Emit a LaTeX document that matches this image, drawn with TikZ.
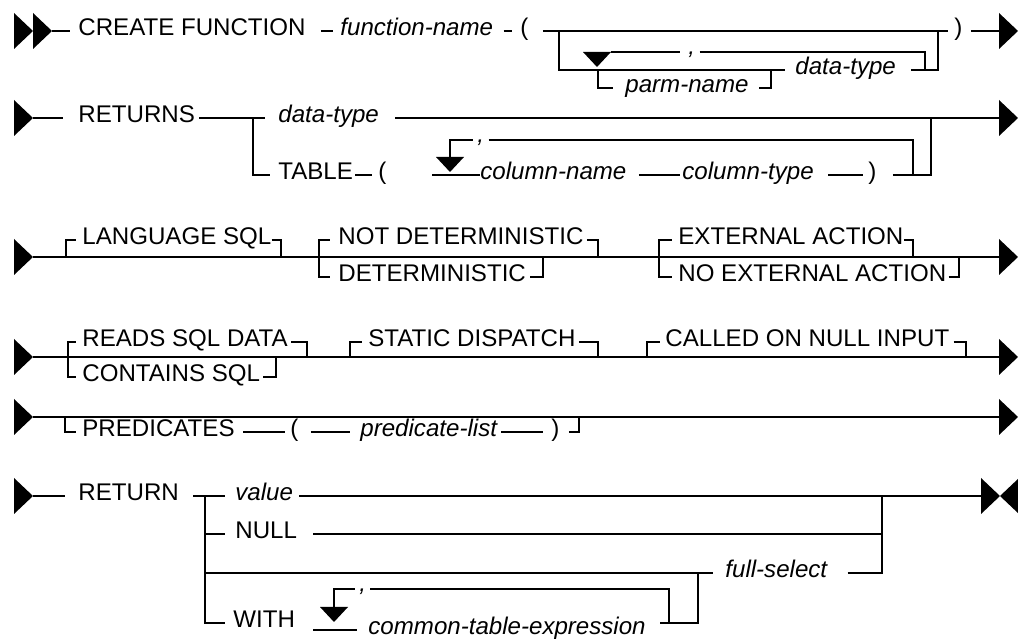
\documentclass[tikz,border=0pt]{standalone}
\usepackage{fontspec}
\setmainfont{Liberation Sans}
\newcommand{\railfont}{\fontsize{12.05}{14}\selectfont}
\tikzset{
	rail/.style={line width=0.6pt},
	kw/.style={inner sep=0pt, text height=8.5pt, text depth=3.5pt, anchor=west, font=\railfont},
	var/.style={kw, font=\railfont\itshape},
	sepcomma/.style={inner sep=0pt, text height=2.5pt, text depth=0pt, anchor=west, font=\railfont\itshape},
	tri/.pic={\fill (-19,-18) -- (0,0) -- (-19,18) -- cycle;},
	backtri/.pic={\fill (19,-18) -- (0,0) -- (19,18) -- cycle;},
	downtri/.pic={\fill (-14,-15) -- (14,-15) -- (0,0) -- cycle;}
}
\begin{document}
\begin{tikzpicture}[x=0.5pt, y=-0.5pt, line cap=butt, line join=miter]
			\useasboundingbox (0,0) rectangle (1018,640);
			
			% CREATE FUNCTION row
			\pic at (33,31) {tri}; \pic at (52,31) {tri};
			\node[kw] (create) at (78,31) {CREATE FUNCTION};
			\node[var] (fname) at (340,31) {function-name};
			\node[kw] (lp1) at (520,31) {(};
			\node[kw] (rp1) at (954,31) {)};
			\draw[rail] (52,31) -- ([xshift=-4pt]create.west);
			\draw[rail] ([xshift=7.5pt]create.east) -- ([xshift=-3.5pt]fname.west);
			\draw[rail] ([xshift=5pt]fname.east) -- ([xshift=-4pt]lp1.west);
			\draw[rail] ([xshift=7pt]lp1.east) -- ([xshift=-3pt]rp1.west);
			\draw[rail] ([xshift=4pt]rp1.east) -- (1000,31);
			\pic at (1018,31) {tri};
			% parameter list
			\node[var] (dtype1) at (795,70) {data-type};
			\node[var] (pname) at (625,88) {parm-name};
			\node[sepcomma] (comma1) at (688,52) {,};
			\draw[rail] (559,31) |- ([xshift=-5pt]dtype1.west);
			\draw[rail] ([xshift=7.5pt]dtype1.east) -| (938,31);
			\pic at (597,67) {downtri};
			\draw[rail] (611,52) -- ([xshift=-4pt]comma1.west);
			\draw[rail] ([xshift=2pt]comma1.east) -| (925,70);
			\draw[rail] (598,70) |- ([xshift=-6pt]pname.west);
			\draw[rail] ([xshift=5pt]pname.east) -| (771,70);
			
			% RETURNS row
			\pic at (33,118) {tri};
			\node[kw] (returns) at (78,118) {RETURNS};
			\node[var] (dtype2) at (278,118) {data-type};
			\node[kw] (table) at (278,175) {TABLE};
			\node[kw] (lp2) at (378,175) {(};
			\node[var] (cname) at (480,175) {column-name};
			\node[var] (ctype) at (682,175) {column-type};
			\node[kw] (rp2) at (868,175) {)};
			\node[sepcomma] (comma2) at (477,140) {,};
			\draw[rail] (33,118) -- ([xshift=-7.5pt]returns.west);
			\draw[rail] ([xshift=2pt]returns.east) -- ([xshift=-6.5pt]dtype2.west);
			\draw[rail] ([xshift=8pt]dtype2.east) -- (1000,118);
			\pic at (1018,118) {tri};
			\draw[rail] (253,118) |- ([xshift=-4pt]table.west);
			\draw[rail] ([xshift=1pt]table.east) -- ([xshift=-3pt]lp2.west);
			\pic at (450,172) {downtri};
			\draw[rail] (432,175) -- (cname.west);
			\draw[rail] (450,157) |- ([xshift=-2pt]comma2.west);
			\draw[rail] ([xshift=2pt]comma2.east) -| (913,175);
			\draw[rail] ([xshift=6pt]cname.east) -- ([xshift=-1pt]ctype.west);
			\draw[rail] ([xshift=7pt]ctype.east) -- ([xshift=-2.5pt]rp2.west);
			\draw[rail] ([xshift=8pt]rp2.east) -| (931,118);
			
			% LANGUAGE / DETERMINISTIC / EXTERNAL ACTION row
			\pic at (33,257) {tri};
			\draw[rail] (33,257) -- (1000,257);
			\pic at (1018,257) {tri};
			\node[kw] (lang) at (82,240) {LANGUAGE SQL};
			\node[kw] (notdet) at (338,240) {NOT DETERMINISTIC};
			\node[kw] (det) at (338,277) {DETERMINISTIC};
			\node[kw] (extact) at (678,240) {EXTERNAL ACTION};
			\node[kw] (noext) at (678,277) {NO EXTERNAL ACTION};
			\draw[rail] (66,257) |- ([xshift=-3pt]lang.west);
			\draw[rail] (lang.east) -| (281,257);
			\draw[rail] (319,257) |- ([xshift=-4pt]notdet.west);
			\draw[rail] (319,257) |- ([xshift=-4pt]det.west);
			\draw[rail] ([xshift=1.5pt]notdet.east) -| (598,257);
			\draw[rail] ([xshift=2pt]det.east) -| (543,257);
			\draw[rail] (659,257) |- ([xshift=-3pt]extact.west);
			\draw[rail] (659,257) |- ([xshift=-3pt]noext.west);
			\draw[rail] (extact.east) -| (913,257);
			\draw[rail] ([xshift=1pt]noext.east) -| (959,257);
			
			% SQL DATA / DISPATCH / NULL INPUT row
			\pic at (33,357) {tri};
			\draw[rail] (33,357) -- (1000,357);
			\pic at (1018,357) {tri};
			\node[kw] (reads) at (82,342) {READS SQL DATA};
			\node[kw] (contains) at (82,377) {CONTAINS SQL};
			\node[kw] (static) at (368,342) {STATIC DISPATCH};
			\node[kw] (called) at (665,342) {CALLED ON NULL INPUT};
			\draw[rail] (68,357) |- ([xshift=-3pt]reads.west);
			\draw[rail] (68,357) |- ([xshift=-3pt]contains.west);
			\draw[rail] ([xshift=1.5pt]reads.east) -| (307,357);
			\draw[rail] ([xshift=1.5pt]contains.east) -| (276,357);
			\draw[rail] (350,357) |- ([xshift=-3pt]static.west);
			\draw[rail] ([xshift=1.5pt]static.east) -| (598,357);
			\draw[rail] (647,357) |- ([xshift=-2.5pt]called.west);
			\draw[rail] ([xshift=2pt]called.east) -| (966,357);
			
			% PREDICATES row
			\pic at (33,417) {tri};
			\draw[rail] (33,417) -- (1000,417);
			\pic at (1018,417) {tri};
			\node[kw] (pred) at (82,432) {PREDICATES};
			\node[kw] (lp5) at (290,432) {(};
			\node[var] (plist) at (360,432) {predicate-list};
			\node[kw] (rp5) at (551,432) {)};
			\draw[rail] (65,417) |- ([xshift=-3pt]pred.west);
			\draw[rail] ([xshift=4pt]pred.east) -- ([xshift=-2.5pt]lp5.west);
			\draw[rail] ([xshift=6pt]lp5.east) -- ([xshift=-5pt]plist.west);
			\draw[rail] ([xshift=2pt]plist.east) -- ([xshift=-4pt]rp5.west);
			\draw[rail] ([xshift=4.5pt]rp5.east) -| (579,417);
			
			% RETURN row
			\pic at (33,496) {tri};
			\node[kw] (ret) at (78,496) {RETURN};
			\node[var] (val) at (235,496) {value};
			\node[kw] (null) at (235,534) {NULL};
			\node[var] (fsel) at (725,573) {full-select};
			\node[kw] (with) at (233,623) {WITH};
			\node[var] (cte) at (368,630) {common-table-expression};
			\node[sepcomma] (comma6) at (359,589) {,};
			\draw[rail] (33,496) -- ([xshift=-6.5pt]ret.west);
			\draw[rail] ([xshift=7pt]ret.east) -- ([xshift=-5pt]val.west);
			\draw[rail] ([xshift=3pt]val.east) -- (982,496);
			\pic at (1000,496) {tri}; \pic at (1000,496) {backtri};
			\draw[rail] (205,496) |- ([xshift=-4pt]with.west);
			\draw[rail] (205,534) -- ([xshift=-5pt]null.west);
			\draw[rail] ([xshift=8pt]null.east) -| (882,496);
			\draw[rail] (205,573) -- ([xshift=-6pt]fsel.west);
			\draw[rail] ([xshift=10pt]fsel.east) -| (882,534);
			% repeated table expressions
			\pic at (334,622) {downtri};
			\draw[rail] (313,630) -- ([xshift=-5.5pt]cte.west);
			\draw[rail] (334,607) |- ([xshift=-2pt]comma6.west);
			\draw[rail] ([xshift=2pt]comma6.east) -| (669,623);
			\draw[rail] (660,623) -- (698,623) -- (698,573);
		\end{tikzpicture}
\end{document}
